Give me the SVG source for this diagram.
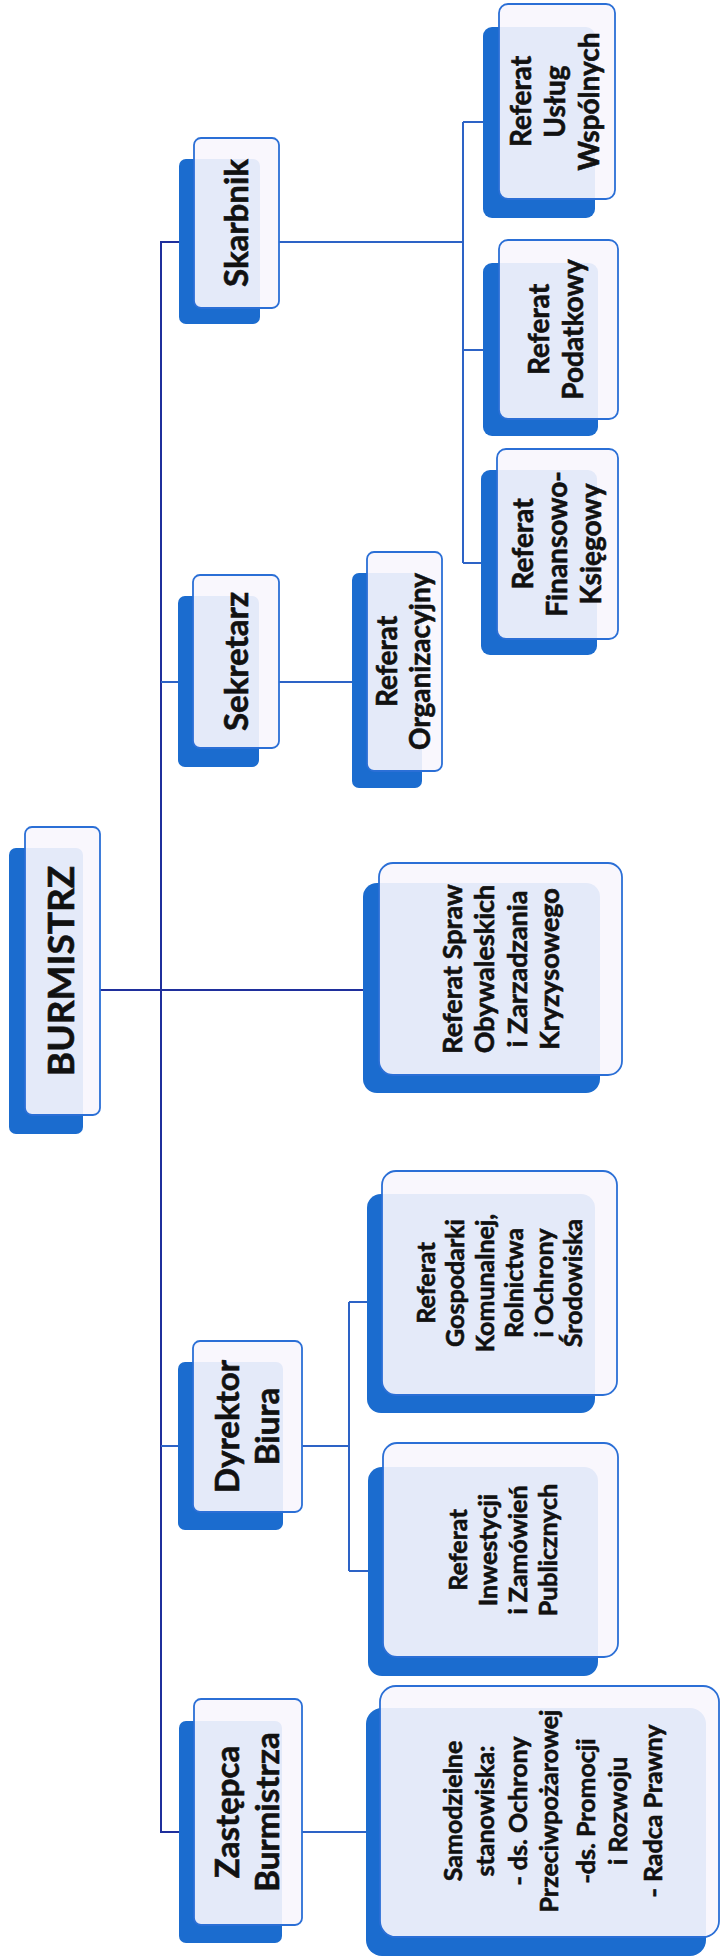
<svg xmlns="http://www.w3.org/2000/svg" width="722" height="1957" viewBox="0 0 722 1957">
<style>
.sh{fill:#1b6ccf}
.fr{fill:#f8f6fd;fill-opacity:.91;stroke:#2b6fd6;stroke-width:1.8}
.t{font-family:Lato,"Noto Sans","Liberation Sans",sans-serif;font-weight:700;fill:#111;stroke:#111;stroke-width:0.6;text-anchor:middle}
.main{stroke:#1f2f9c;stroke-width:2;fill:none}
.sub{stroke:#2d63c6;stroke-width:2;fill:none}
</style>
<rect width="722" height="1957" fill="#fff"/>
<g id="connectors">
<path class="main" d="M179,242 H161 V1832 H179"/>
<path class="main" d="M100,990 H363"/>
<path class="sub" d="M279,242 H463 M463,122 V563 M463,122 H483 M463,350 H483 M463,563 H481"/>
<path class="sub" d="M161,682 H178 M279,682 H352"/>
<path class="sub" d="M161,1446 H178 M302,1446 H349 M349,1302 V1571 M349,1302 H367 M349,1571 H368"/>
<path class="sub" d="M302,1832 H366"/>
</g>
<g id="burmistrz">
<rect class="sh" x="9" y="848" width="74" height="286" rx="7"/>
<rect class="fr" x="25" y="827" width="75" height="288" rx="7"/>
<text class="t" font-size="37" transform="translate(62.5,971) rotate(-90)"><tspan x="0" y="11">BURMISTRZ</tspan></text>
</g>
<g id="skarbnik">
<rect class="sh" x="179" y="159" width="81" height="165" rx="7"/>
<rect class="fr" x="194" y="138" width="85" height="170" rx="7"/>
<text class="t" font-size="33" transform="translate(236.5,223) rotate(-90)"><tspan x="0" y="11.5">Skarbnik</tspan></text>
</g>
<g id="sekretarz">
<rect class="sh" x="178" y="596" width="81" height="171" rx="7"/>
<rect class="fr" x="193" y="575" width="86" height="173" rx="7"/>
<text class="t" font-size="33" transform="translate(236,661.5) rotate(-90)"><tspan x="0" y="11.5">Sekretarz</tspan></text>
</g>
<g id="dyrektor">
<rect class="sh" x="178" y="1362" width="105" height="168" rx="7"/>
<rect class="fr" x="193" y="1341" width="109" height="171" rx="7"/>
<text class="t" font-size="33" transform="translate(247.5,1426.5) rotate(-90)"><tspan x="0" y="-9">Dyrektor</tspan><tspan x="0" y="31">Biura</tspan></text>
</g>
<g id="zastepca">
<rect class="sh" x="179" y="1721" width="103" height="222" rx="7"/>
<rect class="fr" x="194" y="1699" width="108" height="226" rx="7"/>
<text class="t" font-size="33" transform="translate(248,1812) rotate(-90)"><tspan x="0" y="-9">Zastępca</tspan><tspan x="0" y="31">Burmistrza</tspan></text>
</g>
<g id="organizacyjny">
<rect class="sh" x="352" y="573" width="70" height="215" rx="7"/>
<rect class="fr" x="367" y="552" width="75" height="219" rx="7"/>
<text class="t" font-size="28" transform="translate(404.5,661.5) rotate(-90)"><tspan x="0" y="-7.5">Referat</tspan><tspan x="0" y="25.5">Organizacyjny</tspan></text>
</g>
<g id="uslug">
<rect class="sh" x="483" y="27" width="112" height="191" rx="9"/>
<rect class="fr" x="499" y="4" width="116" height="195" rx="9"/>
<text class="t" font-size="28" transform="translate(557,101.5) rotate(-90)"><tspan x="0" y="-26">Referat</tspan><tspan x="0" y="8">Usług</tspan><tspan x="0" y="42">Wspólnych</tspan></text>
</g>
<g id="podatkowy">
<rect class="sh" x="483" y="263" width="115" height="173" rx="9"/>
<rect class="fr" x="499" y="240" width="119" height="179" rx="9"/>
<text class="t" font-size="28" transform="translate(558.5,329.5) rotate(-90)"><tspan x="0" y="-9.5">Referat</tspan><tspan x="0" y="24.5">Podatkowy</tspan></text>
</g>
<g id="finansowo">
<rect class="sh" x="481" y="470" width="116" height="185" rx="9"/>
<rect class="fr" x="497" y="449" width="121" height="190" rx="9"/>
<text class="t" font-size="28" transform="translate(557.5,544) rotate(-90)"><tspan x="0" y="-25">Referat</tspan><tspan x="0" y="9">Finansowo-</tspan><tspan x="0" y="43">Księgowy</tspan></text>
</g>
<g id="spraw">
<rect class="sh" x="363" y="883" width="237" height="210" rx="14"/>
<rect class="fr" x="379" y="863" width="243" height="212" rx="14"/>
<text class="t" font-size="27" transform="translate(500.5,969) rotate(-90)"><tspan x="0" y="-39">Referat Spraw</tspan><tspan x="0" y="-6.5">Obywaleskich</tspan><tspan x="0" y="26">i Zarzadzania</tspan><tspan x="0" y="58.5">Kryzysowego</tspan></text>
</g>
<g id="gospodarki">
<rect class="sh" x="367" y="1194" width="228" height="219" rx="14"/>
<rect class="fr" x="382" y="1171" width="235" height="224" rx="14"/>
<text class="t" font-size="25" transform="translate(499.5,1283) rotate(-90)"><tspan x="0" y="-64.5">Referat</tspan><tspan x="0" y="-35.1">Gospodarki</tspan><tspan x="0" y="-5.7">Komunalnej,</tspan><tspan x="0" y="23.7">Rolnictwa</tspan><tspan x="0" y="53.1">i Ochrony</tspan><tspan x="0" y="82.5">Środowiska</tspan></text>
</g>
<g id="inwestycji">
<rect class="sh" x="368" y="1467" width="230" height="209" rx="14"/>
<rect class="fr" x="383" y="1443" width="235" height="214" rx="14"/>
<text class="t" font-size="25" transform="translate(500.5,1550) rotate(-90)"><tspan x="0" y="-34">Referat</tspan><tspan x="0" y="-4">Inwestycji</tspan><tspan x="0" y="26">i Zamówień</tspan><tspan x="0" y="56">Publicznych</tspan></text>
</g>
<g id="samodzielne">
<rect class="sh" x="366" y="1708" width="340" height="248" rx="16"/>
<rect class="fr" x="380" y="1686" width="339" height="251" rx="16"/>
<text class="t" font-size="25" transform="translate(549.5,1811) rotate(-90)"><tspan x="0" y="-87.5">Samodzielne</tspan><tspan x="0" y="-55.5">stanowiska:</tspan><tspan x="0" y="-22.5">- ds. Ochrony</tspan><tspan x="0" y="8.5">Przeciwpożarowej</tspan><tspan x="0" y="45.5">-ds. Promocji</tspan><tspan x="0" y="77.5">i Rozwoju</tspan><tspan x="0" y="112.5">- Radca Prawny</tspan></text>
</g>
</svg>
